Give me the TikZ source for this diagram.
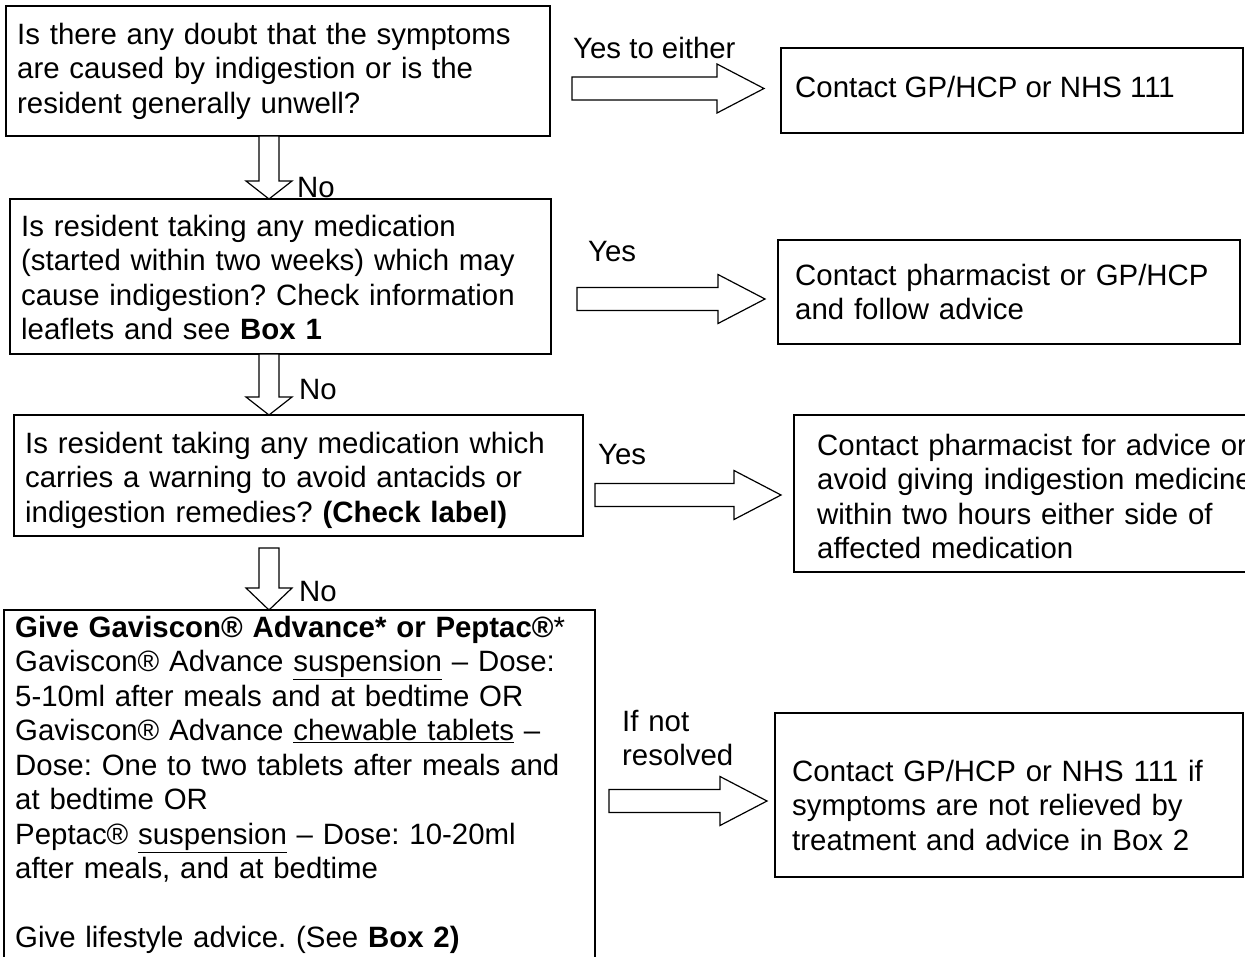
\documentclass[tikz,border=0pt]{standalone}
\usepackage{fontspec}
\setmainfont{Liberation Sans}
\usetikzlibrary{calc}
\frenchspacing
\tikzset{
  box/.style={draw, line width=1.6pt, anchor=north west, inner sep=0pt, outer sep=0pt},
  txt/.style={anchor=north west, inner sep=0pt, align=left, text width=640pt,
              font=\fontsize{29.4}{34.5}\selectfont},
  lbl/.style={anchor=base west, inner sep=0pt, font=\fontsize{29.4}{34.5}\selectfont},
  blk/.style={draw, line width=1.2pt, fill=white, line join=miter},
}
% vertical block arrow: #1 start point, #2 tip point, #3 gap below start, #4 head length
\newcommand\vconn[4]{%
  \draw[blk] let \p1=(#1), \p2=(#2) in
    (\x1-10pt,\y1-#3) -- (\x1-10pt,\y2+#4) -- (\x1-23pt,\y2+#4) -- (\x2,\y2)
    -- (\x1+23pt,\y2+#4) -- (\x1+10pt,\y2+#4) -- (\x1+10pt,\y1-#3) -- cycle;}
% horizontal block arrow: #1 start coordinate, #2 target node west point, #3 gap before target
\newcommand\hconn[3]{%
  \draw[blk] let \p1=(#1), \p2=(#2) in
    (\x1,\y1+11.5pt) -- (\x2-#3-47pt,\y1+11.5pt) -- (\x2-#3-47pt,\y1+24.5pt) -- (\x2-#3,\y1)
    -- (\x2-#3-47pt,\y1-24.5pt) -- (\x2-#3-47pt,\y1-11.5pt) -- (\x1,\y1-11.5pt) -- cycle;}
\begin{document}
\begin{tikzpicture}[x=1pt,y=-1pt]
\useasboundingbox (0,0) rectangle (1245,956);
\clip (0,0) rectangle (1245,956);

% ---------- left column boxes ----------
\node[box, minimum width=544pt, minimum height=130pt] (b1) at (6,6) {};
\node[txt] (t1) at (17,20) {\strut Is there any doubt that the symptoms\\
are caused by indigestion or is the\\
resident generally unwell?};

\node[box, minimum width=541pt, minimum height=155pt] (b2) at (10,199) {};
\node[txt] (t2) at (21,212) {\strut Is resident taking any medication\\
(started within two weeks) which may\\
cause indigestion? Check information\\
leaflets and see \textbf{Box 1}};

\node[box, minimum width=569pt, minimum height=121pt] (b3) at (14,415) {};
\node[txt] (t3) at (25,429) {\strut Is resident taking any medication which\\
carries a warning to avoid antacids or\\
indigestion remedies? \textbf{(Check label)}};

\node[box, minimum width=591pt, minimum height=380pt] (b4) at (4,610) {};
\node[txt] (t4) at (15,613) {\strut\textbf{Give Gaviscon® Advance* or Peptac®}*\\
Gaviscon® Advance \underline{suspension} \textendash{} Dose:\\
5-10ml after meals and at bedtime OR\\
Gaviscon® Advance \underline{chewable tablets} \textendash\\
Dose: One to two tablets after meals and\\
at bedtime OR\\
Peptac® \underline{suspension} \textendash{} Dose: 10-20ml\\
after meals, and at bedtime\\
\mbox{}\\
Give lifestyle advice. (See \textbf{Box 2)}};

% ---------- right column boxes ----------
\node[box, minimum width=462pt, minimum height=85pt] (r1) at (781,48) {};
\node[lbl] (u1) at (795,97) {Contact GP/HCP or NHS 111};

\node[box, minimum width=462pt, minimum height=104pt] (r2) at (778,240) {};
\node[txt] (u2) at (795,261) {\strut Contact pharmacist or GP/HCP\\
and follow advice};

\node[box, minimum width=480pt, minimum height=157pt] (r3) at (794,415) {};
\node[txt] (u3) at (817,431) {\strut Contact pharmacist for advice or\\
avoid giving indigestion medicine\\
within two hours either side of\\
affected medication};

\node[box, minimum width=468pt, minimum height=164pt] (r4) at (775,713) {};
\node[txt] (u4) at (792,757) {\strut Contact GP/HCP or NHS 111 if\\
symptoms are not relieved by\\
treatment and advice in Box 2};

% ---------- down connectors ----------
\coordinate (ax) at (269,0);
\vconn{b1.south -| ax}{b2.north -| ax}{0pt}{18pt}
\vconn{b2.south -| ax}{b3.north -| ax}{0pt}{18pt}
\vconn{b3.south -| ax}{b4.north -| ax}{12pt}{22pt}
\node[lbl] (n1) at (297,197) {No};
\node[lbl] (n2) at (299,399) {No};
\node[lbl] (n3) at (299,601) {No};

% ---------- right connectors ----------
\coordinate (s1) at (572,88.5);
\coordinate (s2) at (577,299);
\coordinate (s3) at (595,495);
\coordinate (s4) at (609,801);
\hconn{s1}{s1 -| r1.west}{17pt}
\hconn{s2}{s2 -| r2.west}{13pt}
\hconn{s3}{s3 -| r3.west}{13pt}
\hconn{s4}{s4 -| r4.west}{8pt}
\node[lbl] (y1) at (573,58) {Yes to either};
\node[lbl] (y2) at (588,261) {Yes};
\node[lbl] (y3) at (598,464) {Yes};
\node[txt, text width=200pt] (y4) at (622,707) {\strut If not\\resolved};
\end{tikzpicture}
\end{document}
